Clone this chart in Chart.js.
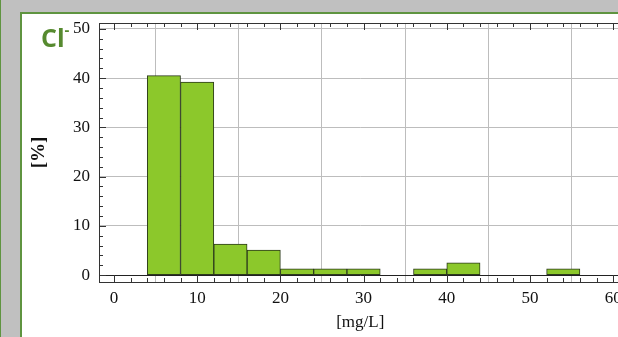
<!DOCTYPE html>
<html>
<head>
<meta charset="utf-8">
<script src="https://cdn.jsdelivr.net/npm/chart.js@4.4.1/dist/chart.umd.min.js"></script>
<style>
  html, body { margin: 0; padding: 0; }
  body { width: 618px; height: 337px; overflow: hidden; background: #c0c0c0; position: relative; }
  #edge { position: absolute; left: 0; top: 0; width: 1px; height: 337px; background: #5f9440; }
  #panel { position: absolute; left: 20px; top: 12px; width: 700px; height: 400px; border: 2px solid #5f9440; background: #fff; }
  #label { position: absolute; left: 41px; top: 20px; font: bold 25px "Open Sans", sans-serif; color: #568a2f; }
  #label sup { font-size: 15px; position: relative; top: -3px; }
  #chart { position: absolute; left: 0; top: 0; }
</style>
</head>
<body>
<div id="edge"></div>
<div id="panel"></div>
<canvas id="chart" width="630" height="337"></canvas>
<div id="label">Cl<sup>-</sup></div>
<script>
// histogram of Cl- concentration, bins of 4 mg/L
const binStarts = [4, 8, 12, 16, 20, 24, 28, 32, 36, 40, 44, 48, 52];
const binWidth = 4;
const percent = [40.5, 39.2, 6.3, 5.1, 1.3, 1.3, 1.3, 0, 1.3, 2.5, 0, 0, 1.3];
const xTicks = [0, 10, 20, 30, 40, 50, 60];
const yTicks = [0, 10, 20, 30, 40, 50];
const minorStep = 2;

const serif = { family: 'Liberation Serif', size: 17 };

// ticks on the inside of the frame, like the original plot
const frameTicks = {
    id: 'frameTicks',
    afterDatasetsDraw(chart) {
        const { ctx, chartArea: a, scales: { x, y } } = chart;
        ctx.save();
        ctx.strokeStyle = '#333';
        ctx.lineWidth = 1;
        ctx.beginPath();
        for (let v = xTicks[0]; v <= xTicks[xTicks.length - 1]; v += minorStep) {
            const px = Math.round(x.getPixelForValue(v)) + 0.5;
            const len = v % 10 === 0 ? 7 : 4;
            ctx.moveTo(px, a.bottom); ctx.lineTo(px, a.bottom - len);
            ctx.moveTo(px, a.top); ctx.lineTo(px, a.top + len);
        }
        for (let v = yTicks[0]; v <= yTicks[yTicks.length - 1]; v += minorStep) {
            const py = Math.round(y.getPixelForValue(v)) + 0.5;
            const len = v % 10 === 0 ? 7 : 4;
            ctx.moveTo(a.left, py); ctx.lineTo(a.left + len, py);
        }
        ctx.stroke();
        ctx.strokeRect(Math.round(a.left) + 0.5, Math.round(a.top) + 0.5, a.right - a.left, Math.round(a.bottom - a.top));
        ctx.restore();
    }
};

const ctx = document.getElementById('chart').getContext('2d');
new Chart(ctx, {
    type: 'bar',
    data: {
        datasets: [{
            data: binStarts.map((s, i) => ({ x: s + binWidth / 2, y: percent[i] })),
            backgroundColor: '#8cc82b',
            borderColor: '#2c3a1c',
            borderWidth: 1,
            borderSkipped: false,
            barPercentage: 1,
            categoryPercentage: 1
        }]
    },
    options: {
        responsive: false,
        animation: false,
        layout: { padding: { top: 23, right: 8.5, left: 0, bottom: 0 } },
        plugins: { legend: { display: false }, tooltip: { enabled: false } },
        scales: {
            x: {
                type: 'linear',
                offset: false,
                min: -1.8,
                max: 61,
                afterBuildTicks: s => { s.ticks = xTicks.map(v => ({ value: v })); },
                afterFit: s => { s.height = 55; },
                grid: { color: '#bdbdbd', drawTicks: false },
                border: { display: false },
                ticks: { font: serif, color: '#111', padding: 6, maxRotation: 0 },
                title: { display: true, text: '[mg/L]', font: serif, color: '#111', padding: { top: 0, bottom: 4 } }
            },
            y: {
                min: -1.4,
                max: 51.2,
                afterBuildTicks: s => { s.ticks = yTicks.map(v => ({ value: v })); },
                afterFit: s => { s.width = 99; },
                grid: {
                    color: c => c.tick && c.tick.value === 0 ? '#222' : '#bdbdbd',
                    drawTicks: false
                },
                border: { display: false },
                ticks: { font: serif, color: '#111', padding: 9 },
                title: { display: true, text: '[%]', font: { family: 'Liberation Serif', size: 19, weight: 'bold' }, color: '#111', padding: { top: 28, bottom: 0 } }
            }
        }
    },
    plugins: [frameTicks]
});
</script>
</body>
</html>
